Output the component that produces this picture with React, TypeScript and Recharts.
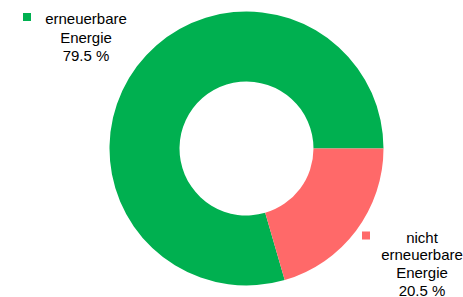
import { PieChart, Pie, Cell } from "recharts";

const shares = [
  { name: "erneuerbare Energie", value: 79.5 },
  { name: "nicht erneuerbare Energie", value: 20.5 },
];

const labelLines = [
  ["erneuerbare", "Energie", "79.5 %"],
  ["nicht", "erneuerbare", "Energie", "20.5 %"],
];

const COLORS = ["#00B050", "#FF6969"];

// where each data label block sits (center x, first baseline, line gap, key square x)
const LABEL_POS = [
  { x: 86, y: 24, gap: 18.7, keyX: 23 },
  { x: 422, y: 242.5, gap: 17.8, keyX: 362 },
];

const FONT = "'Liberation Sans', Arial, sans-serif";

function renderLabel(props: any) {
  const { index } = props;
  const pos = LABEL_POS[index];
  const lines = labelLines[index];
  return (
    <g key={`lbl-${index}`}>
      <rect x={pos.keyX} y={pos.y - 11} width={8} height={8} fill={COLORS[index]} />
      {lines.map((line, i) => (
        <text
          key={i}
          x={pos.x}
          y={pos.y + i * pos.gap}
          textAnchor="middle"
          fontFamily={FONT}
          fontSize={15}
          fill="#000"
        >
          {line}
        </text>
      ))}
    </g>
  );
}

export default function App() {
  return (
    <div
      style={{
        position: "fixed",
        left: 0,
        top: 0,
        width: 463,
        height: 297,
        background: "#fff",
        overflow: "hidden",
      }}
    >
      <PieChart width={463} height={297} margin={{ top: 0, right: 0, bottom: 0, left: 0 }}>
        <Pie
          data={shares}
          dataKey="value"
          nameKey="name"
          cx={246.5}
          cy={148.5}
          innerRadius={67}
          outerRadius={137}
          startAngle={0}
          endAngle={360}
          stroke="none"
          label={renderLabel}
          labelLine={false}
          isAnimationActive={false}
        >
          {shares.map((_, index) => (
            <Cell key={index} fill={COLORS[index]} />
          ))}
        </Pie>
      </PieChart>
    </div>
  );
}
